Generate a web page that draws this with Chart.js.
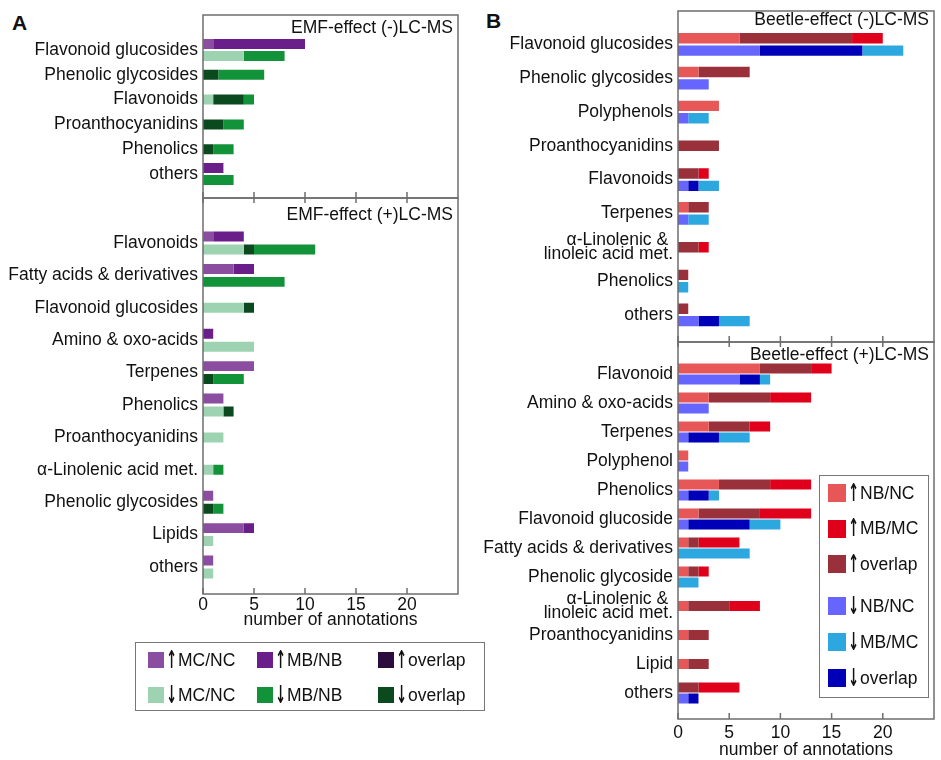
<!DOCTYPE html>
<html>
<head>
<meta charset="utf-8">
<script src="https://cdn.jsdelivr.net/npm/chart.js@4.4.0/dist/chart.umd.min.js"></script>
<style>
  html, body { margin: 0; padding: 0; background: #fff; }
  body { width: 941px; height: 760px; position: relative; overflow: hidden; font-family: 'Liberation Sans', Arial, sans-serif; color: #111; }
  .panel { position: absolute; }
  .letter { position: absolute; font-size: 21px; font-weight: bold; line-height: 21px; }
  .legend { position: absolute; border: 1.5px solid #777; box-sizing: border-box; }
  .item { position: absolute; display: flex; align-items: center; font-size: 17.5px; height: 22px; white-space: nowrap; }
  .arrow { display: inline-block; font-family: 'DejaVu Sans', sans-serif; font-weight: bold; font-size: 17px; line-height: 17px;
    width: 10px; text-align: center; margin: 0 3px 0 1px; transform: scale(0.75, 1.45); }
</style>
</head>
<body>
<div class="letter" style="left:12px;top:12px">A</div>
<div class="letter" style="left:486px;top:10px">B</div>
<div class="panel"><canvas id="aTop"></canvas></div>
<div class="panel"><canvas id="aBottom"></canvas></div>
<div class="panel"><canvas id="bTop"></canvas></div>
<div class="panel"><canvas id="bBottom"></canvas></div>
<div class="legend" id="legendA" style="left:135px;top:642px;width:350px;height:69px"></div>
<div class="legend" id="legendB" style="left:819px;top:475px;width:110px;height:223px"></div>
<script>
const xTickValues = [0, 5, 10, 15, 20];
const xMax = 25;
const xTitle = 'number of annotations';

// A: EMF effect, series order in each bar: MC/NC, overlap, MB/NB
const aNames = ['MC/NC', 'overlap', 'MB/NB'];
const aUpColors = ['#8a4d9f', '#2c0b3d', '#6a1e8a'];
const aDownColors = ['#9dd3b0', '#0b4a1f', '#12933a'];

const aTopCategories = ['Flavonoid glucosides', 'Phenolic glycosides', 'Flavonoids', 'Proanthocyanidins', 'Phenolics', 'others'];
const aTopUpMcNc = [1, 0, 0, 0, 0, 0];
const aTopUpOverlap = [0, 0, 0, 0, 0, 0];
const aTopUpMbNb = [9, 0, 0, 0, 0, 2];
const aTopDownMcNc = [4, 0, 1, 0, 0, 0];
const aTopDownOverlap = [0, 1.5, 3, 2, 1, 0];
const aTopDownMbNb = [4, 4.5, 1, 2, 2, 3];

const aBottomCategories = ['Flavonoids', 'Fatty acids & derivatives', 'Flavonoid glucosides', 'Amino & oxo-acids', 'Terpenes',
  'Phenolics', 'Proanthocyanidins', 'α-Linolenic acid met.', 'Phenolic glycosides', 'Lipids', 'others'];
const aBottomUpMcNc = [1, 3, 0, 0, 5, 2, 0, 0, 1, 4, 1];
const aBottomUpOverlap = [0, 0, 0, 0, 0, 0, 0, 0, 0, 0, 0];
const aBottomUpMbNb = [3, 2, 0, 1, 0, 0, 0, 0, 0, 1, 0];
const aBottomDownMcNc = [4, 0, 4, 5, 0, 2, 2, 1, 0, 1, 1];
const aBottomDownOverlap = [1, 0, 1, 0, 1, 1, 0, 0, 1, 0, 0];
const aBottomDownMbNb = [6, 8, 0, 0, 3, 0, 0, 1, 1, 0, 0];

// B: Beetle effect, series order in each bar: NB/NC, overlap, MB/MC
const bNames = ['NB/NC', 'overlap', 'MB/MC'];
const bUpColors = ['#e85757', '#99303a', '#e0001b'];
const bDownColors = ['#6666ff', '#0000b8', '#2ca7df'];

const bTopCategories = ['Flavonoid glucosides', 'Phenolic glycosides', 'Polyphenols', 'Proanthocyanidins', 'Flavonoids', 'Terpenes',
  ['α-Linolenic & ', 'linoleic acid met.'], 'Phenolics', 'others'];
const bTopUpNbNc = [6, 2, 4, 0, 0, 1, 0, 0, 0];
const bTopUpOverlap = [11, 5, 0, 4, 2, 2, 2, 1, 1];
const bTopUpMbMc = [3, 0, 0, 0, 1, 0, 1, 0, 0];
const bTopDownNbNc = [8, 3, 1, 0, 1, 1, 0, 0, 2];
const bTopDownOverlap = [10, 0, 0, 0, 1, 0, 0, 0, 2];
const bTopDownMbMc = [4, 0, 2, 0, 2, 2, 0, 1, 3];

const bBottomCategories = ['Flavonoid', 'Amino & oxo-acids', 'Terpenes', 'Polyphenol', 'Phenolics', 'Flavonoid glucoside',
  'Fatty acids & derivatives', 'Phenolic glycoside', ['α-Linolenic & ', 'linoleic acid met.'], 'Proanthocyanidins', 'Lipid', 'others'];
const bBottomUpNbNc = [8, 3, 3, 1, 4, 2, 1, 1, 1, 1, 1, 0];
const bBottomUpOverlap = [5, 6, 4, 0, 5, 6, 1, 1, 4, 2, 2, 2];
const bBottomUpMbMc = [2, 4, 2, 0, 4, 5, 4, 1, 3, 0, 0, 4];
const bBottomDownNbNc = [6, 3, 1, 1, 1, 1, 0, 0, 0, 0, 0, 1];
const bBottomDownOverlap = [2, 0, 3, 0, 2, 6, 0, 0, 0, 0, 0, 1];
const bBottomDownMbMc = [1, 0, 3, 0, 1, 3, 7, 2, 0, 0, 0, 0];

const FONT = "'Liberation Sans', Arial, sans-serif";
const FONT_SIZE = 17.5;
const HALF_LINE = FONT_SIZE * 1.2 / 2;
Chart.defaults.font.family = FONT;
Chart.defaults.font.size = FONT_SIZE;
Chart.defaults.color = '#111';

// frame, inside ticks and panel title
const framePlugin = {
  id: 'frame',
  afterDraw(chart, args, opts) {
    const { ctx, chartArea: a, scales: { x } } = chart;
    ctx.save();
    ctx.strokeStyle = '#6e6e6e';
    ctx.lineWidth = 1.5;
    ctx.strokeRect(a.left, opts.top, a.right - a.left, opts.bottom - opts.top);
    ctx.beginPath();
    xTickValues.forEach(v => {
      const px = x.getPixelForValue(v);
      ctx.moveTo(px, opts.bottom);
      ctx.lineTo(px, opts.bottom - 6);
      if (opts.ticksTop) {
        ctx.moveTo(px, opts.top);
        ctx.lineTo(px, opts.top + 5);
      }
    });
    ctx.stroke();
    ctx.fillStyle = '#111';
    ctx.font = FONT_SIZE + 'px ' + FONT;
    ctx.textAlign = 'right';
    ctx.textBaseline = 'middle';
    ctx.fillText(opts.title, a.right - 5, opts.titleY);
    ctx.restore();
  }
};

function stackSets(parts, stack, colors, names) {
  const totals = parts[0].map((_, i) => parts.reduce((s, p) => s + p[i], 0));
  return parts.map((p, k) => ({
    label: names[k],
    stack: stack,
    backgroundColor: colors[k],
    data: p.map((v, i) => totals[i] > 0 ? v : null)
  }));
}

function makePanel(id, spec, categories, upParts, downParts, upColors, downColors, names) {
  const canvas = document.getElementById(id);
  const canvasTop = spec.frameTop - 2;
  let height, xHeight, padBottom;
  if (spec.showX) {
    const scaleBottom = spec.xTitleY + HALF_LINE;
    height = Math.ceil(scaleBottom - canvasTop);
    xHeight = scaleBottom - spec.bandBottom;
    padBottom = height - (scaleBottom - canvasTop);
  } else {
    height = Math.ceil(spec.frameBottom + 2 - canvasTop);
    xHeight = 0;
    padBottom = height - (spec.bandBottom - canvasTop);
  }
  canvas.width = spec.width;
  canvas.height = height;
  canvas.parentNode.style.cssText = `left:${spec.left}px;top:${canvasTop}px;width:${spec.width}px;height:${height}px`;

  const datasets = stackSets(upParts, 'up', upColors, names).concat(stackSets(downParts, 'down', downColors, names));
  datasets.forEach(d => Object.assign(d, {
    borderWidth: 0,
    skipNull: true,
    categoryPercentage: spec.catPct,
    barPercentage: spec.barPct,
    maxBarThickness: spec.maxBar
  }));

  return new Chart(canvas, {
    type: 'bar',
    data: { labels: categories, datasets: datasets },
    options: {
      indexAxis: 'y',
      responsive: false,
      animation: false,
      layout: { padding: { top: spec.bandTop - canvasTop, bottom: padBottom, left: 0, right: 4 } },
      scales: {
        x: {
          type: 'linear', min: 0, max: xMax, stacked: true,
          grid: { display: false, drawTicks: false },
          border: { display: false },
          afterBuildTicks: s => { s.ticks = xTickValues.map(v => ({ value: v })); },
          ticks: { display: spec.showX, padding: spec.showX ? spec.xTickY - HALF_LINE - spec.bandBottom : 0, maxRotation: 0, autoSkip: false },
          title: { display: spec.showX, text: xTitle, padding: 0 },
          afterFit: s => { s.height = xHeight; }
        },
        y: {
          stacked: true,
          grid: { display: false, drawTicks: false },
          border: { display: false },
          ticks: { padding: 5, autoSkip: false, font: { size: FONT_SIZE, lineHeight: 0.82 } },
          afterFit: s => { s.width = spec.axisWidth; }
        }
      },
      plugins: {
        legend: { display: false },
        tooltip: { enabled: false },
        frame: {
          top: spec.frameTop - canvasTop,
          bottom: spec.frameBottom - canvasTop,
          title: spec.title,
          titleY: spec.titleY - canvasTop,
          ticksTop: spec.ticksTop
        }
      }
    },
    plugins: [framePlugin]
  });
}

makePanel('aTop', {
  left: 0, width: 462, axisWidth: 203, frameTop: 15, frameBottom: 198, bandTop: 37.6, bandBottom: 186.4,
  showX: false, title: 'EMF-effect (-)LC-MS', titleY: 28, ticksTop: false, catPct: 0.97, barPct: 0.83, maxBar: 10
}, aTopCategories, [aTopUpMcNc, aTopUpOverlap, aTopUpMbNb], [aTopDownMcNc, aTopDownOverlap, aTopDownMbNb],
  aUpColors, aDownColors, aNames);

makePanel('aBottom', {
  left: 0, width: 462, axisWidth: 203, frameTop: 198, frameBottom: 594, bandTop: 226.8, bandBottom: 583.2,
  showX: true, xTickY: 605, xTitleY: 620, title: 'EMF-effect (+)LC-MS', titleY: 215.5, ticksTop: true,
  catPct: 0.8, barPct: 0.77, maxBar: 10
}, aBottomCategories, [aBottomUpMcNc, aBottomUpOverlap, aBottomUpMbNb], [aBottomDownMcNc, aBottomDownOverlap, aBottomDownMbNb],
  aUpColors, aDownColors, aNames);

makePanel('bTop', {
  left: 470, width: 468, axisWidth: 208, frameTop: 11, frameBottom: 342, bandTop: 27.5, bandBottom: 335.2,
  showX: false, title: 'Beetle-effect (-)LC-MS', titleY: 20, ticksTop: false, catPct: 0.73, barPct: 0.84, maxBar: 10.5
}, bTopCategories, [bTopUpNbNc, bTopUpOverlap, bTopUpMbMc], [bTopDownNbNc, bTopDownOverlap, bTopDownMbMc],
  bUpColors, bDownColors, bNames);

makePanel('bBottom', {
  left: 470, width: 468, axisWidth: 208, frameTop: 342, frameBottom: 719, bandTop: 359.5, bandBottom: 707.5,
  showX: true, xTickY: 732.7, xTitleY: 750, title: 'Beetle-effect (+)LC-MS', titleY: 355, ticksTop: true,
  catPct: 0.77, barPct: 0.89, maxBar: 10
}, bBottomCategories, [bBottomUpNbNc, bBottomUpOverlap, bBottomUpMbMc], [bBottomDownNbNc, bBottomDownOverlap, bBottomDownMbMc],
  bUpColors, bDownColors, bNames);

// legends: listed as MC/NC, MB/NB, overlap (series indexes 0, 2, 1)
const legendOrder = [0, 2, 1];

function legendItem(parent, left, centerY, color, arrow, text, size) {
  const el = document.createElement('div');
  el.className = 'item';
  el.style.left = left + 'px';
  el.style.top = (centerY - 11) + 'px';
  el.innerHTML = `<span style="display:inline-block;width:${size}px;height:${size}px;background:${color}"></span>` +
    `<span class="arrow">${arrow}</span><span>${text}</span>`;
  parent.appendChild(el);
}

const legendA = document.getElementById('legendA');
[12, 121, 242].forEach((left, c) => {
  const k = legendOrder[c];
  legendItem(legendA, left, 17, aUpColors[k], '↑', aNames[k], 16);
  legendItem(legendA, left, 52, aDownColors[k], '↓', aNames[k], 16);
});

const legendB = document.getElementById('legendB');
legendOrder.forEach((k, r) => {
  legendItem(legendB, 8, 17 + r * 35.5, bUpColors[k], '↑', bNames[k], 18);
  legendItem(legendB, 8, 130 + r * 36, bDownColors[k], '↓', bNames[k], 18);
});
</script>
</body>
</html>
